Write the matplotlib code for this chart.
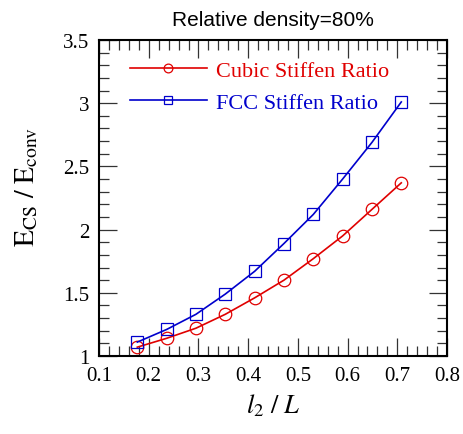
import matplotlib
matplotlib.use("Agg")
import matplotlib.pyplot as plt
from matplotlib.ticker import MultipleLocator, FuncFormatter

# l2/L ratios and stiffness ratios for the two lattice types
l2_ratio = [0.177, 0.236, 0.295, 0.354, 0.413, 0.472, 0.531, 0.590, 0.649, 0.708]
cubic_ratio = [1.07, 1.14, 1.22, 1.33, 1.46, 1.60, 1.77, 1.95, 2.16, 2.37]
fcc_ratio = [1.11, 1.21, 1.33, 1.49, 1.67, 1.89, 2.12, 2.40, 2.69, 3.01]

title_text = "Relative density=80%"
legend_labels = ["Cubic Stiffen Ratio", "FCC Stiffen Ratio"]

plt.rcParams['font.family'] = ['Liberation Serif', 'DejaVu Serif']
plt.rcParams['mathtext.fontset'] = 'stix'

red = '#e00000'
blue = '#0000cc'

fig = plt.figure(figsize=(4.64, 4.35), dpi=100)
ax = fig.add_axes([0.2134, 0.1793, 0.75, 0.7264])

ax.plot(l2_ratio, cubic_ratio, color=red, lw=1.2, marker='o', ms=9,
        mfc='none', mec=red, mew=0.9, label=legend_labels[0])
ax.plot(l2_ratio, fcc_ratio, color=blue, lw=1.2, marker='s', ms=9,
        mfc='none', mec=blue, mew=0.9, label=legend_labels[1])

ax.set_xlim(0.1, 0.8)
ax.set_ylim(1, 3.5)
ax.xaxis.set_major_locator(MultipleLocator(0.1))
ax.xaxis.set_minor_locator(MultipleLocator(0.02))
ax.yaxis.set_major_locator(MultipleLocator(0.5))
ax.yaxis.set_minor_locator(MultipleLocator(0.1))
ax.xaxis.set_major_formatter(FuncFormatter(lambda v, p: '%g' % round(v, 2)))
ax.yaxis.set_major_formatter(FuncFormatter(lambda v, p: '%g' % round(v, 2)))

ax.tick_params(which='both', direction='in', top=True, right=True,
               labelsize=15, color='#333333', width=0.9, pad=7)
ax.tick_params(which='major', length=13)
ax.tick_params(which='minor', length=7)
for sp in ax.spines.values():
    sp.set_linewidth(1.5)

ax.set_xlabel(r'$l_2\ /\ L$', fontsize=19, labelpad=5)
ax.set_ylabel(r'$\mathrm{E_{CS}\ /\ E_{conv}}$', fontsize=20)
ax.yaxis.set_label_coords(-0.17, 0.54)
ax.set_title(title_text, fontsize=15, family='Liberation Sans', pad=11)

leg = ax.legend(loc='upper left', frameon=False, fontsize=16,
                handlelength=3.45, handletextpad=0.4, labelspacing=0.5,
                markerscale=0.7, borderpad=0, borderaxespad=0,
                bbox_to_anchor=(0.089, 0.935))
for txt, c in zip(leg.get_texts(), [red, blue]):
    txt.set_color(c)

fig.savefig('out.png', dpi=100)
